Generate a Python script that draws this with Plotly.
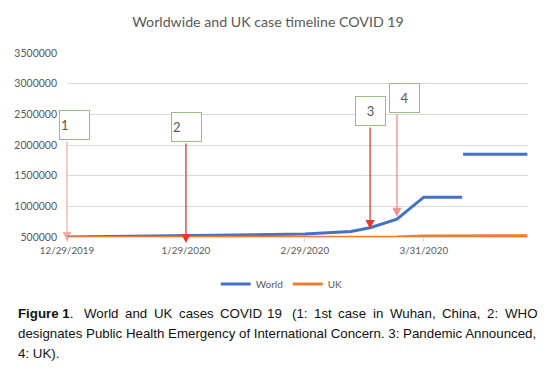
import plotly.graph_objects as go

# ---- data ----
world_dates = ["2019-12-29", "2020-01-29", "2020-02-29", "2020-03-12", "2020-03-17",
               "2020-03-24", "2020-03-31", "2020-04-10", None, "2020-04-10 06:00", "2020-04-27"]
world_cases = [500000, 530000, 548000, 590000, 650000, 790000, 1150000, 1150000, None,
               1850000, 1850000]
uk_dates = ["2019-12-29", "2020-03-12", "2020-03-24", "2020-03-31", "2020-04-27"]
uk_cases = [490000, 493000, 500000, 515000, 522000]

tick_dates = ["2019-12-29", "2020-01-29", "2020-02-29", "2020-03-31"]
tick_labels = ["12/29/2019", "1/29/2020", "2/29/2020", "3/31/2020"]
y_ticks = [500000, 1000000, 1500000, 2000000, 2500000, 3000000, 3500000]

event_labels = ["1", "2", "3", "4"]
event_dates = ["2019-12-29", "2020-01-29", "2020-03-17", "2020-03-24"]
event_values = [500000, 500000, 630000, 830000]

caption_words1 = ["<b>Figure 1</b>.", "World", "and", "UK", "cases", "COVID", "19", "(1:",
                  "1st", "case", "in", "Wuhan,", "China,", "2:", "WHO"]
caption_line2 = "designates Public Health Emergency of International Concern. 3: Pandemic Announced,"
caption_line3 = "4: UK)."

GREY = "#595959"
PLOT_LEFT, PLOT_TOP, PLOT_BOTTOM = 67, 53, 237
H = PLOT_BOTTOM - PLOT_TOP


def paper_y(px):
    return (PLOT_BOTTOM - px) / H


fig = go.Figure()
fig.add_trace(go.Scatter(x=world_dates, y=world_cases, mode="lines", name="World",
                         line=dict(color="#4472C4", width=3), connectgaps=False))
fig.add_trace(go.Scatter(x=uk_dates, y=uk_cases, mode="lines", name="UK",
                         line=dict(color="#ED7D31", width=3)))

# arrows + boxes
arrow_cols = ["rgba(240,120,120,0.6)", "#e8382a", "#e8382a", "rgba(235,110,110,0.75)"]
tip_shift = [-4, -6, 0, 0]
arrow_len = [101, 101, 103, 104]
box_dx = [7, 1, 0, 8]
for i in range(4):
    fig.add_annotation(x=event_dates[i], y=event_values[i], xref="x", yref="y",
                       text="", showarrow=True, arrowhead=2, arrowsize=1.4,
                       arrowwidth=1.3, arrowcolor=arrow_cols[i],
                       ax=0, ay=-arrow_len[i], yshift=tip_shift[i])
    fig.add_annotation(x=event_dates[i], y=event_values[i], xref="x", yref="y",
                       text=event_labels[i], showarrow=False,
                       xshift=box_dx[i], yshift=arrow_len[i] + 15 + tip_shift[i],
                       width=27, height=26, align="left" if i < 2 else "center",
                       bordercolor="#9bbb84", borderwidth=1, borderpad=1,
                       bgcolor="white",
                       font=dict(family="Lato, sans-serif", size=13, color=GREY))

# caption (first line justified word by word)
cap_font = dict(family="Liberation Sans, Arial, sans-serif", size=13.3, color="#111111")
word_left_px = [16, 82, 123, 152, 177, 218, 265, 290, 312, 336, 371, 388, 440, 485, 503]
for w, px in zip(caption_words1, word_left_px):
    fig.add_annotation(x=0, y=paper_y(313), xref="paper", yref="paper", text=w,
                       showarrow=False, xanchor="left", yanchor="middle", font=cap_font,
                       xshift=px - PLOT_LEFT)
for txt, yy in [(caption_line2, 333), (caption_line3, 353)]:
    fig.add_annotation(x=0, y=paper_y(yy), xref="paper", yref="paper", text=txt,
                       showarrow=False, xanchor="left", yanchor="middle", font=cap_font,
                       xshift=16 - PLOT_LEFT)

fig.update_layout(
    width=547, height=373,
    margin=dict(l=PLOT_LEFT, r=19, t=PLOT_TOP, b=373 - PLOT_BOTTOM, autoexpand=False),
    paper_bgcolor="white", plot_bgcolor="white",
    title=dict(text="Worldwide and UK case timeline COVID 19", x=0.49, xanchor="center",
               xref="container", y=1 - 22 / 373, yanchor="middle",
               font=dict(family="Lato, sans-serif", size=14.2, color=GREY)),
    showlegend=True,
    legend=dict(orientation="h", x=0.515, xanchor="center", xref="container",
                y=1 - 284 / 373, yref="container",
                yanchor="middle", font=dict(family="Lato, sans-serif", size=10, color=GREY),
                itemwidth=30),
    xaxis=dict(type="date", range=["2019-12-29", "2020-04-27 04:00"], tickvals=tick_dates,
               ticktext=tick_labels, showgrid=False, showline=True, linecolor="#d9d9d9",
               ticks="outside", ticklen=4, tickcolor="#d9d9d9", automargin=False,
               tickfont=dict(family="Lato, sans-serif", size=9.8, color=GREY)),
    yaxis=dict(range=[500000, 3500000], tickvals=y_ticks, automargin=False,
               ticktext=[str(v) for v in y_ticks], showgrid=True, gridcolor="#d9d9d9",
               zeroline=False, tickfont=dict(family="Lato, sans-serif", size=10.5, color=GREY),
               ticks="", ticklabelstandoff=9),
)
fig.write_html("out.html", config={"displayModeBar": False},
               post_script="document.body.style.margin='0';")
